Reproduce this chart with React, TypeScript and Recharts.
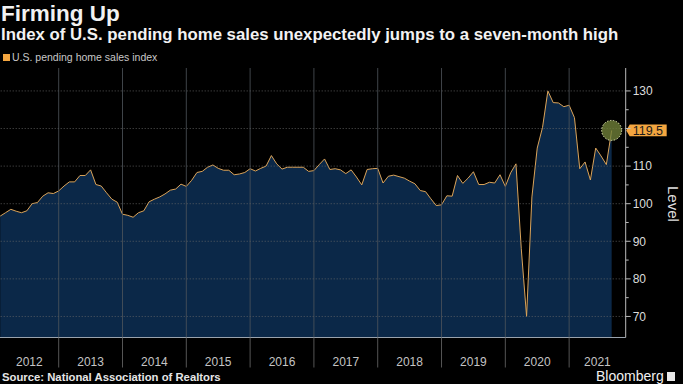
import { Area, AreaChart, ReferenceLine, XAxis, YAxis } from "recharts";

// monthly index, Jan 2012 .. Aug 2021
const values = [
  96.7, 97.6, 98.5, 98.0, 97.6, 98.1, 100.0, 100.3, 102.0, 102.9, 102.7, 103.4,
  104.7, 105.8, 105.8, 107.5, 107.5, 109.0, 105.1, 104.7, 102.9, 101.2, 100.4, 97.2,
  96.9, 96.4, 97.6, 98.1, 100.5, 101.2, 101.8, 102.6, 103.6, 103.9, 105.2, 104.6,
  106.2, 108.3, 108.6, 109.7, 110.3, 109.4, 108.9, 108.9, 107.7, 107.9, 108.3, 109.3,
  108.7, 109.4, 110.0, 112.8, 110.6, 109.2, 109.7, 109.7, 109.7, 109.7, 108.6, 108.8,
  110.4, 111.9, 109.1, 109.3, 109.0, 108.0, 109.0, 107.1, 105.0, 109.1, 109.3, 109.4,
  105.5, 107.3, 107.6, 107.2, 106.8, 106.0, 105.3, 103.5, 103.2, 101.3, 99.5, 99.7,
  102.1, 102.0, 107.5, 105.4, 106.8, 108.5, 105.1, 105.1, 105.7, 105.5, 107.7, 104.6,
  108.2, 110.6, 88.0, 70.0, 101.8, 114.8, 120.3, 130.0, 126.9, 126.8, 125.8, 126.2,
  122.9, 109.3, 111.1, 106.3, 114.8, 112.7, 110.4, 119.5,
];
const yearLabels = ["2012", "2013", "2014", "2015", "2016", "2017", "2018", "2019", "2020", "2021"];
const yearBounds = [12, 24, 36, 48, 60, 72, 84, 96, 108];
const yTicks = [70, 80, 90, 100, 110, 120, 130];
const yMinor = [75, 85, 95, 105, 115, 125];
const xDomain: [number, number] = [0.96, 118.64];
const yDomain: [number, number] = [64.4, 136.1];

const data = values.map((v, i) => ({ t: i + 1, value: v }));

const labelAt = new Map<number, string>();
yearLabels.forEach((y, k) => {
  const a = Math.max(k * 12, xDomain[0]);
  const b = Math.min((k + 1) * 12, xDomain[1]);
  labelAt.set((a + b) / 2, y);
});
const xTicks = [...labelAt.keys(), ...yearBounds].sort((a, b) => a - b);

const FONT = "'Liberation Sans', Arial, sans-serif";
const last = values.length - 1;

const XTick = (props: any) => {
  const { x, y, payload } = props;
  const label = labelAt.get(payload.value);
  if (label)
    return (
      <text x={x} y={y + 28.5} textAnchor="middle" fill="#c4c4c4" fontSize={12} fontFamily={FONT}>
        {label}
      </text>
    );
  return <line x1={x} x2={x} y1={y} y2={y + 30} stroke="#555" strokeWidth={1} />;
};

const YTick = (props: any) => {
  const { x, y, payload } = props;
  const major = payload.value % 10 === 0;
  // the latest-value flag takes the place of the nearest tick label
  const hidden = Math.abs(payload.value - values[last]) < 4;
  return (
    <g>
      <line x1={x} x2={x + (major ? 5 : 3)} y1={y} y2={y} stroke="#bbb" />
      {major && !hidden && (
        <text x={x + 7} y={y + 4.3} fill="#dcdcdc" fontSize={12} fontFamily={FONT}>
          {payload.value}
        </text>
      )}
    </g>
  );
};

const renderDot = (p: any) => {
  if (p.index !== last) return <g key={`d${p.index}`} />;
  return (
    <circle
      key="last"
      cx={p.cx}
      cy={p.cy}
      r={10}
      fill="#6f8038"
      fillOpacity={0.8}
      stroke="#e4ebb4"
      strokeWidth={1}
      strokeDasharray="1.5 1.5"
    />
  );
};

const ValueLabel = (props: any) => {
  const vb = props.viewBox;
  const x = vb.x + vb.width;
  const y = vb.y;
  return (
    <g>
      <path
        d={`M${x + 0.5},${y} L${x + 4},${y - 5.8} L${x + 41},${y - 5.8} L${x + 41},${y + 5.8} L${x + 4},${y + 5.8} Z`}
        fill="#f4a640"
      />
      <text x={x + 7} y={y + 4.3} fill="#1b1b1b" fontSize={12.5} fontFamily={FONT}>
        {values[last]}
      </text>
    </g>
  );
};

export default function App() {
  return (
    <div
      style={{
        position: "absolute",
        left: 0,
        top: 0,
        width: 683,
        height: 384,
        background: "#000",
        overflow: "hidden",
        fontFamily: FONT,
      }}
    >
      <div style={{ position: "absolute", left: 1, top: 3, fontSize: 22.5, lineHeight: 1, fontWeight: 700, color: "#f2f2f2", whiteSpace: "nowrap" }}>
        Firming Up
      </div>
      <div style={{ position: "absolute", left: 1, top: 26.5, fontSize: 16.8, lineHeight: 1, fontWeight: 700, color: "#f2f2f2", whiteSpace: "nowrap" }}>
        Index of U.S. pending home sales unexpectedly jumps to a seven-month high
      </div>
      <div style={{ position: "absolute", left: 3, top: 52, fontSize: 10.5, lineHeight: 1, color: "#c8c8c8", whiteSpace: "nowrap", display: "flex", alignItems: "center" }}>
        <span style={{ display: "inline-block", width: 7, height: 7, background: "#f4a640", marginRight: 2 }} />
        U.S. pending home sales index
      </div>

      <div style={{ position: "absolute", left: 0, top: 0 }}>
        <AreaChart width={683} height={384} data={data} margin={{ top: 68, right: 0, bottom: 0, left: 0 }}>
          <XAxis
            dataKey="t"
            type="number"
            domain={xDomain}
            allowDataOverflow
            ticks={xTicks}
            interval={0}
            tick={<XTick />}
            tickLine={false}
            tickSize={0}
            tickMargin={0}
            height={46.5}
            axisLine={{ stroke: "#9aa3ad" }}
          />
          <YAxis
            orientation="right"
            type="number"
            domain={yDomain}
            allowDataOverflow
            ticks={[...yTicks, ...yMinor].sort((a, b) => a - b)}
            interval={0}
            tick={<YTick />}
            tickLine={false}
            tickSize={0}
            tickMargin={0}
            width={57.3}
            axisLine={{ stroke: "#bbb" }}
          />
          <Area
            type="linear"
            dataKey="value"
            stroke="#dba45a"
            strokeWidth={1}
            fill="#0b2848"
            fillOpacity={1}
            dot={renderDot}
            activeDot={false}
            isAnimationActive={false}
          />
          {yTicks.map((v) => (
            <ReferenceLine key={`h${v}`} y={v} stroke="#6a6a6a" strokeDasharray="1 2" strokeWidth={0.8} />
          ))}
          {yearBounds.map((v) => (
            <ReferenceLine key={`v${v}`} x={v} stroke="#4f555c" strokeWidth={0.8} />
          ))}
          <ReferenceLine y={values[last]} stroke="none" label={{ content: <ValueLabel /> }} />
        </AreaChart>
      </div>

      <div style={{ position: "absolute", left: 666, top: 186, writingMode: "vertical-rl", fontSize: 15, lineHeight: 1, color: "#dedede" }}>
        Level
      </div>
      <div style={{ position: "absolute", left: 2, top: 371.5, fontSize: 11.3, lineHeight: 1, fontWeight: 700, color: "#e6e6e6", whiteSpace: "nowrap" }}>
        Source: National Association of Realtors
      </div>
      <div style={{ position: "absolute", left: 596, top: 369, fontSize: 14, lineHeight: 1, color: "#f0f0f0", whiteSpace: "nowrap", display: "flex", alignItems: "center" }}>
        Bloomberg
        <span style={{ display: "inline-block", width: 8, height: 9, background: "#e8e8e8", marginLeft: 3 }} />
      </div>
    </div>
  );
}
